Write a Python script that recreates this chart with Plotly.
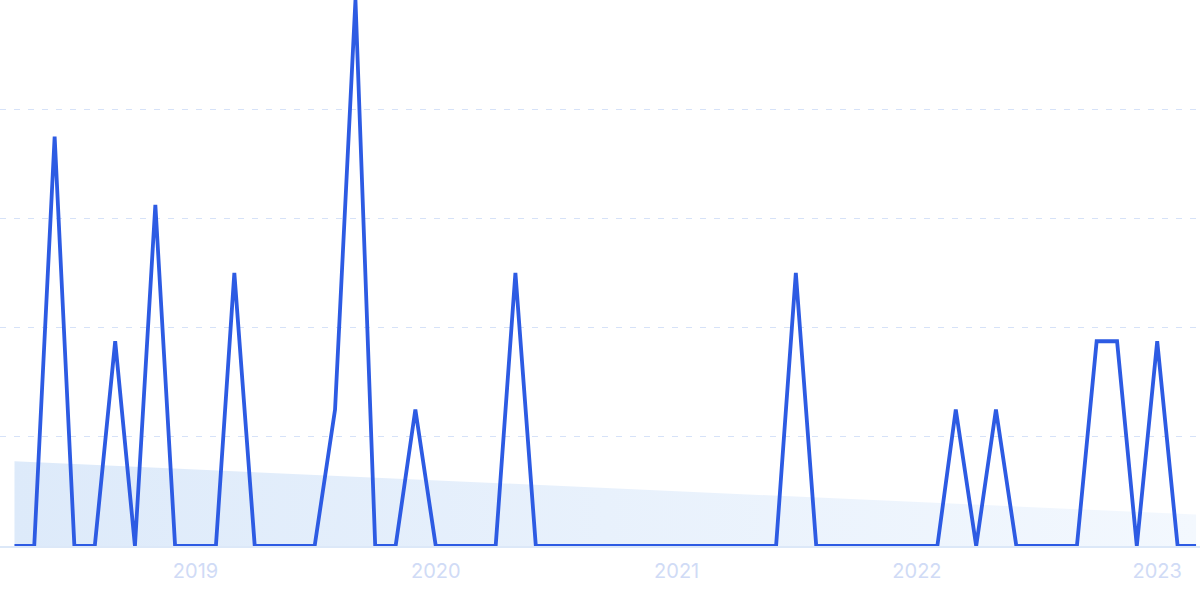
import plotly.graph_objects as go

months = [
    "2018-04", "2018-05", "2018-06", "2018-07", "2018-08", "2018-09", "2018-10", "2018-11", "2018-12",
    "2019-01", "2019-02", "2019-03", "2019-04", "2019-05", "2019-06", "2019-07", "2019-08", "2019-09",
    "2019-10", "2019-11", "2019-12",
    "2020-01", "2020-02", "2020-03", "2020-04", "2020-05", "2020-06", "2020-07", "2020-08", "2020-09",
    "2020-10", "2020-11", "2020-12",
    "2021-01", "2021-02", "2021-03", "2021-04", "2021-05", "2021-06", "2021-07", "2021-08", "2021-09",
    "2021-10", "2021-11", "2021-12",
    "2022-01", "2022-02", "2022-03", "2022-04", "2022-05", "2022-06", "2022-07", "2022-08", "2022-09",
    "2022-10", "2022-11", "2022-12",
    "2023-01", "2023-02", "2023-03",
]
values = [
    0, 0, 6, 0, 0, 3, 0, 5, 0,
    0, 0, 4, 0, 0, 0, 0, 2, 8,
    0, 0, 2,
    0, 0, 0, 0, 4, 0, 0, 0, 0,
    0, 0, 0,
    0, 0, 0, 0, 0, 0, 4, 0, 0,
    0, 0, 0,
    0, 0, 2, 0, 2, 0, 0, 0, 0,
    3, 3, 0,
    3, 0, 0,
]
trend_dates = ["2018-04", "2023-03"]
trend_values = [1.24, 0.46]

year_ticks = ["2019-01-01", "2020-01-01", "2021-01-01", "2022-01-01", "2023-01-01"]
year_labels = ["2019", "2020", "2021", "2022", "2023"]
grid_vals = [0, 1.6, 3.2, 4.8, 6.4, 8.0]

dates = [m + "-01" for m in months]
tdates = [m + "-01" for m in trend_dates]

fig = go.Figure()
fig.add_trace(go.Scatter(
    x=tdates, y=trend_values, mode="lines", line=dict(width=0),
    fill="tozeroy",
    fillgradient=dict(type="horizontal",
                      colorscale=[[0, "rgba(221,234,250,1)"], [1, "rgba(243,248,254,1)"]]),
    hoverinfo="skip", showlegend=False,
))
fig.add_trace(go.Scatter(
    x=dates, y=values, mode="lines",
    line=dict(color="#2d5be3", width=3.8),
    showlegend=False, cliponaxis=True,
))

fig.update_layout(
    width=1200, height=599,
    margin=dict(l=0, r=0, t=0, b=53),
    plot_bgcolor="white", paper_bgcolor="white",
    font=dict(family="Inter", size=20, color="#d0dbf6"),
)
fig.update_xaxes(
    type="date",
    range=["2018-03-10", "2023-03-07"],
    tickvals=year_ticks, ticktext=year_labels,
    showgrid=False, zeroline=False,
    showline=True, linecolor="#dce8f8", linewidth=1.5,
    ticks="", ticklabelstandoff=6,
    tickfont=dict(family="Inter", size=20, color="#d0dbf6"),
)
fig.update_yaxes(
    range=[0, 8], tickvals=grid_vals, showticklabels=False,
    showgrid=True, gridcolor="#d6e2f8", griddash="6px,8px", gridwidth=1,
    zeroline=False,
)

fig.write_html(
    "out.html",
    config={"displayModeBar": False},
    post_script="document.body.style.margin='0';document.body.style.overflow='hidden';",
)
